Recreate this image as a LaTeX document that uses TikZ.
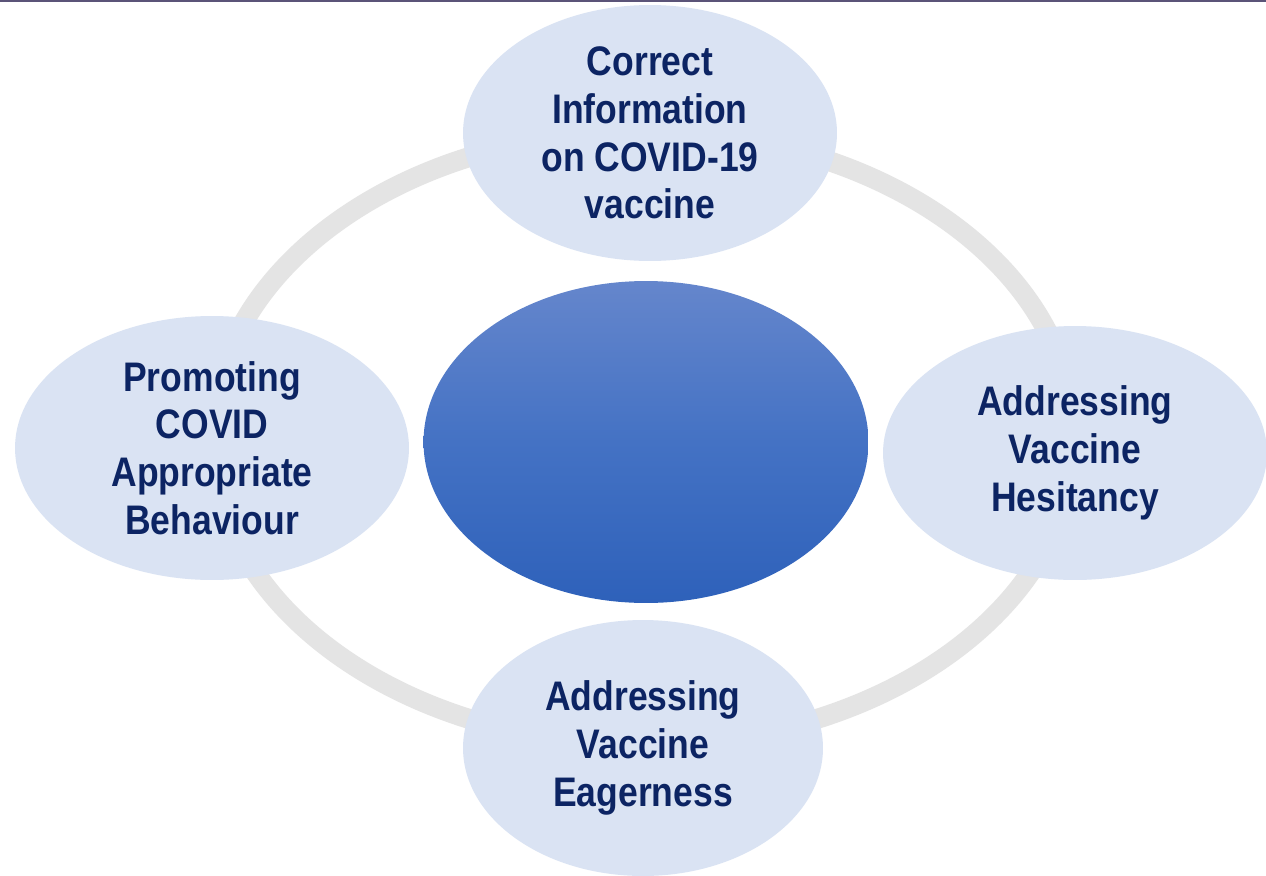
\documentclass[tikz,border=0pt]{standalone}
\usepackage{fontspec}
\setmainfont{Liberation Sans}[FakeStretch=0.86]
\usetikzlibrary{shapes.geometric}
\definecolor{sat}{HTML}{DAE3F3}
\definecolor{txt}{HTML}{0C2463}
\definecolor{ringc}{HTML}{E4E4E4}
\definecolor{topc}{HTML}{6586CC}
\definecolor{midc}{HTML}{4472C4}
\definecolor{botc}{HTML}{2E61BA}
\definecolor{barc}{HTML}{5B5478}
\tikzset{
  sat/.style={ellipse, fill=sat, draw=none, align=center, text=txt,
    font=\bfseries\fontsize{23.5}{27.2}\selectfont, inner sep=0pt},
  hub/.style={ellipse, draw=none, top color=topc, bottom color=botc, middle color=midc, inner sep=0pt}
}
\begin{document}
\begin{tikzpicture}[x=0.02cm,y=-0.02cm]
\useasboundingbox (0,0) rectangle (1266,875);
\clip (0,0) rectangle (1266,875);
\fill[white] (0,0) rectangle (1266,875);
\fill[barc] (0,0) rectangle (1266,2.5);
\coordinate (rc) at (643,438);
\draw[ringc, line width=0.4cm] (rc) ellipse [x radius=8.62cm, y radius=6.14cm];
\node[hub, minimum width=8.9cm, minimum height=6.44cm] (hub) at (646,442) {};
\node[sat, minimum width=7.48cm, minimum height=5.12cm] (top) at (650,133) {Correct\\Information\\on COVID-19\\vaccine};
\node[sat, minimum width=7.88cm, minimum height=5.28cm] (left) at (212,448) {Promoting\\COVID\\Appropriate\\Behaviour};
\node[sat, minimum width=7.68cm, minimum height=5.08cm] (right) at (1075,453) {Addressing\\Vaccine\\Hesitancy};
\node[sat, minimum width=7.2cm, minimum height=5.12cm] (bottom) at (643,748) {Addressing\\Vaccine\\Eagerness};
\end{tikzpicture}
\end{document}
